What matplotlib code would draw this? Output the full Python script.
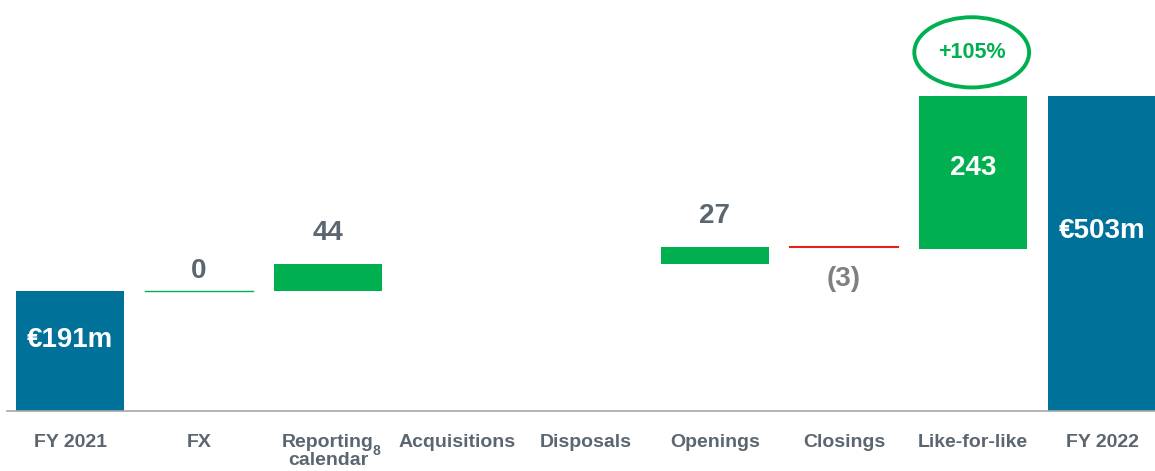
import matplotlib.pyplot as plt
from matplotlib.patches import Ellipse
import numpy as np

plt.rcParams['font.family'] = ['Liberation Sans', 'DejaVu Sans']

# bridge FY 2021 -> FY 2022 (EUR m)
categories = ['FY 2021', 'FX', 'Reporting\ncalendar', 'Acquisitions', 'Disposals',
              'Openings', 'Closings', 'Like-for-like', 'FY 2022']
values = [191, 0, 44, None, None, 27, -3, 243, 503]
labels = ['€191m', '0', '44', '', '', '27', '(3)', '243', '€503m']
growth = '+105%'

blue = '#00729a'
green = '#00b050'
red = '#e3231b'
grey = '#5b6670'

fig = plt.figure(figsize=(11.55, 4.71), dpi=100)
ax = fig.add_axes([0, 0, 1, 1])
px = 0.627  # pixels per unit, used for text offsets
ax.set_xlim(-70 / 129, (1155 - 70) / 129)
ax.set_ylim(-60 / px, 411 / px)
ax.axis('off')

w = 0.84
running = 0
for i, v in enumerate(values):
    if v is None:
        continue
    if i == 0 or i == len(values) - 1:
        ax.bar(i, v, width=w, color=blue)
        running = v
        continue
    if v == 0:
        ax.plot([i - w / 2, i + w / 2], [running, running], color=green, lw=1)
        ax.text(i, running + 20 / px, labels[i], ha='center', va='center',
                fontsize=20, fontweight='bold', color=grey)
        continue
    if abs(v) < 5:
        top = running + v
        ax.plot([i - w / 2, i + w / 2], [running, running], color=red if v < 0 else green, lw=1.5)
        ax.text(i, top - 30 / px, labels[i], ha='center', va='center',
                fontsize=20, fontweight='bold', color='#808080')
        running = top
        continue
    ax.bar(i, v, bottom=running, width=w, color=green)
    if v > 100:
        ax.text(i, running + v / 2 + 4 / px, labels[i], ha='center', va='center',
                fontsize=20, fontweight='bold', color='white')
    else:
        ax.text(i, running + v + 31 / px, labels[i], ha='center', va='center',
                fontsize=20, fontweight='bold', color=grey)
    running += v

# totals labels
ax.text(0, values[0] / 2 + 11 / px, labels[0], ha='center', va='center',
        fontsize=20, fontweight='bold', color='white')
ax.text(8, values[8] / 2 + 22 / px, labels[8], ha='center', va='center',
        fontsize=20, fontweight='bold', color='white')

# baseline
ax.plot([-0.49, 8.6], [0, 0], color='#a6a6a6', lw=1.2, clip_on=False)

# category labels
for i, c in enumerate(categories):
    ax.text(i, -23 / px, c, ha='center', va='top', fontsize=14, fontweight='bold',
            color=grey, linespacing=1.05)
ax.text(2 + 0.345, -40 / px, '8', ha='left', va='center', fontsize=10,
        fontweight='bold', color=grey)

# growth bubble over like-for-like
ax.add_patch(Ellipse((6.99, 572), 0.89, 112, fill=False, ec=green, lw=2.8, clip_on=False))
ax.text(6.99, 572, growth, ha='center', va='center', fontsize=15.5,
        fontweight='bold', color=green)

plt.savefig('out.png', dpi=100)
